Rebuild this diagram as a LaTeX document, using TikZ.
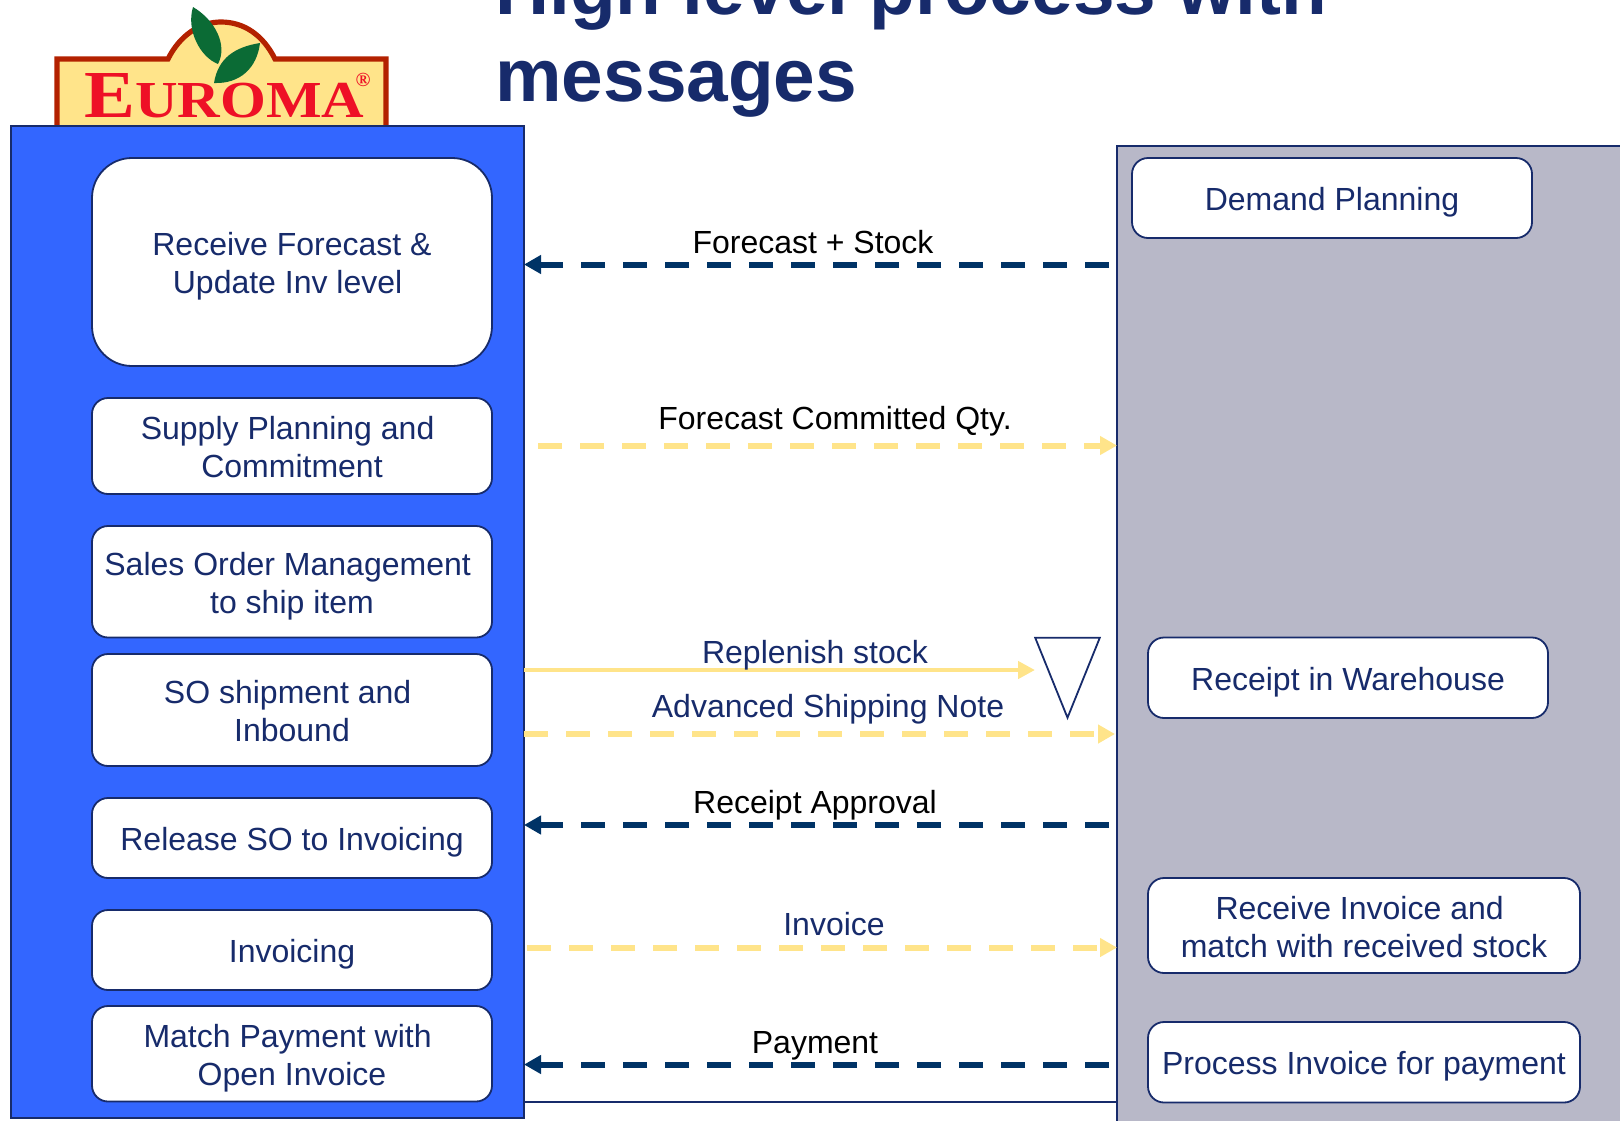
\documentclass[tikz,border=0pt]{standalone}
\usepackage{fontspec}
\usepackage{graphicx}
\setmainfont{Liberation Sans}
\newfontfamily\logofont{Liberation Serif}
\usetikzlibrary{arrows.meta,shapes.geometric}
\definecolor{panelblue}{HTML}{3366FF}
\definecolor{panelgrey}{HTML}{B8B8C8}
\definecolor{inkblue}{HTML}{172B6B}
\definecolor{msgnavy}{HTML}{003366}
\definecolor{msgyellow}{HTML}{FFE48A}
\definecolor{logored}{HTML}{B32100}
\definecolor{logotext}{HTML}{EE1026}
\definecolor{logoleaf}{HTML}{0B6B35}
\newcommand{\trailgap}{\hspace*{4.4pt}}
% name, x1, y1, x2, y2, style
\newcommand{\placebox}[6]{%
  \pgfmathsetmacro{\boxcx}{(#2+#4)/2}%
  \pgfmathsetmacro{\boxcy}{(#3+#5)/2}%
  \pgfmathsetmacro{\boxw}{(#4-#2)*0.5}%
  \pgfmathsetmacro{\boxh}{(#5-#3)*0.5}%
  \node[#6,minimum width=\boxw pt,minimum height=\boxh pt] (#1) at (\boxcx,\boxcy) {};}
\tikzset{
  x=0.5pt,y=-0.5pt,
  panel/.style={draw=inkblue,line width=0.9pt,inner sep=0pt,outer sep=0pt},
  procbox/.style={draw=inkblue,line width=0.9pt,fill=white,rounded corners=8pt,inner sep=0pt,outer sep=0pt},
  procbig/.style={procbox,rounded corners=20pt},
  proctext/.style={inner sep=0pt,text=inkblue,font=\fontsize{16}{19}\selectfont,align=center},
  msgtext/.style={font=\fontsize{16}{19}\selectfont,inner sep=0pt},
  titletext/.style={font=\fontsize{37.4}{43}\selectfont\bfseries,text=inkblue,inner sep=0pt,anchor=base west},
  toleft/.style={draw=msgnavy,line width=3pt,dash pattern=on 12pt off 9pt,
    -{Triangle[length=8.5pt,width=9pt,fill=msgnavy]}},
  toright/.style={draw=msgyellow,line width=3pt,dash pattern=on 12pt off 9pt,
    -{Triangle[length=8.5pt,width=9pt,fill=msgyellow]}},
  solidmsg/.style={draw=msgyellow,line width=2.3pt,-{Triangle[length=8.5pt,width=8.5pt,fill=msgyellow]}}
}
\begin{document}
\begin{tikzpicture}
\useasboundingbox (0,0) rectangle (1620,1120);
\clip (0,0) rectangle (1620,1120);
% logo
\draw[logored,line width=2.6pt,fill=msgyellow,line join=miter]
  (57,130) -- (57,59) -- (168,59) .. controls (180,35) and (200,22) .. (221,22)
  .. controls (244,22) and (263,35) .. (275,59) -- (386,59) -- (386,130);
\fill[logoleaf] (193,7) .. controls (215,20) and (228,45) .. (218,64)
  .. controls (200,57) and (186,30) .. (193,7) -- cycle;
\fill[logoleaf] (260,43) .. controls (235,47) and (218,58) .. (214,83)
  .. controls (240,84) and (257,68) .. (260,43) -- cycle;
\node[anchor=base west,inner sep=0pt,text=logotext] (logoname) at (84,117)
  {\resizebox{140pt}{22pt}{\logofont\bfseries\fontsize{33}{33}\selectfont E\fontsize{25.5}{33}\selectfont UROMA}};
\node[inner sep=0pt,text=logotext,font=\logofont\bfseries\fontsize{10}{10}\selectfont] (logoreg) at (363,80) {®};
% title
\node[titletext] (title1) at (495,14) {High level process with};
\node[titletext] (title2) at (495,101) {messages};
% panels
\placebox{leftpanel}{11}{126}{524}{1118}{panel,fill=panelblue}
\placebox{rightpanel}{1117}{146}{1660}{1160}{panel,fill=panelgrey}
\coordinate (baseL) at (524,1102); \coordinate (baseR) at (1117,1102);
\draw[inkblue,line width=0.9pt] (baseL) -- (baseR);
% left boxes
\placebox{b1}{92}{158}{492}{366}{procbig}
\placebox{b2}{92}{398}{492}{494}{procbox}
\placebox{b3}{92}{526}{492}{637.5}{procbox}
\placebox{b4}{92}{654}{492}{766}{procbox}
\placebox{b5}{92}{798}{492}{878}{procbox}
\placebox{b6}{92}{910}{492}{990}{procbox}
\placebox{b7}{92}{1006}{492}{1101.5}{procbox}
\node[proctext,yshift=-2pt] (tb1) at (b1.center) {Receive Forecast \&\\Update Inv level\trailgap};
\node[proctext,yshift=-0.5pt] (tb2) at (b2.center) {Supply Planning and\trailgap\\Commitment};
\node[proctext,yshift=-2pt] (tb3) at (b3.center) {Sales Order Management\trailgap\\to ship item};
\node[proctext,yshift=-0.6pt] (tb4) at (b4.center) {SO shipment and\trailgap\\Inbound};
\node[proctext,yshift=-2pt] (tb5) at (b5.center) {Release SO to Invoicing};
\node[proctext,yshift=-2pt] (tb6) at (b6.center) {Invoicing};
\node[proctext,yshift=-2pt] (tb7) at (b7.center) {Match Payment with\trailgap\\Open Invoice};
% right boxes
\placebox{r1}{1132}{158}{1532}{238}{procbox}
\placebox{r2}{1148}{637.5}{1548}{718}{procbox}
\placebox{r3}{1148}{878}{1580}{973}{procbox}
\placebox{r4}{1148}{1022}{1580}{1102.5}{procbox}
\node[proctext,yshift=-2pt] (tr1) at (r1.center) {Demand Planning};
\node[proctext,yshift=-2pt] (tr2) at (r2.center) {Receipt in Warehouse};
\node[proctext,yshift=-1pt] (tr3) at (r3.center) {Receive Invoice and\trailgap\\match with received stock};
\node[proctext,yshift=-2pt] (tr4) at (r4.center) {Process Invoice for payment};
% stock triangle
\node[draw=inkblue,line width=0.9pt,fill=white,isosceles triangle,isosceles triangle apex angle=44,
  shape border rotate=-90,inner sep=0pt,outer sep=0pt,minimum height=40pt] (stock) at (1067.5,659.5) {};
% connector ends
\coordinate (c1a) at (1109,264.5); \coordinate (c1b) at (524,264.5);
\coordinate (c2a) at (538,445.5);  \coordinate (c2b) at (1117,445.5);
\coordinate (c3a) at (524,670);    \coordinate (c3b) at (1035,670);
\coordinate (c4a) at (524,734);    \coordinate (c4b) at (1115,734);
\coordinate (c5a) at (1109,825);   \coordinate (c5b) at (524,825);
\coordinate (c6a) at (527,947.5);  \coordinate (c6b) at (1117,947.5);
\coordinate (c7a) at (1109,1064.5);\coordinate (c7b) at (524,1064.5);
\draw[toleft] (c1a) -- (c1b);
\draw[toright] (c2a) -- (c2b);
\draw[solidmsg] (c3a) -- (c3b);
\draw[toright] (c4a) -- (c4b);
\draw[toleft] (c5a) -- (c5b);
\draw[toright] (c6a) -- (c6b);
\draw[toleft] (c7a) -- (c7b);
% labels
\node[msgtext,text=black] (m1) at (813,242) {Forecast + Stock};
\node[msgtext,text=black] (m2) at (835,421) {Forecast Committed Qty.};
\node[msgtext,text=inkblue] (m3) at (815,655) {Replenish stock};
\node[msgtext,text=inkblue] (m4) at (828,709) {Advanced Shipping Note};
\node[msgtext,text=black] (m5) at (815,805) {Receipt Approval};
\node[msgtext,text=inkblue] (m6) at (834,924) {Invoice};
\node[msgtext,text=black] (m7) at (815,1046) {Payment};
\end{tikzpicture}
\end{document}
